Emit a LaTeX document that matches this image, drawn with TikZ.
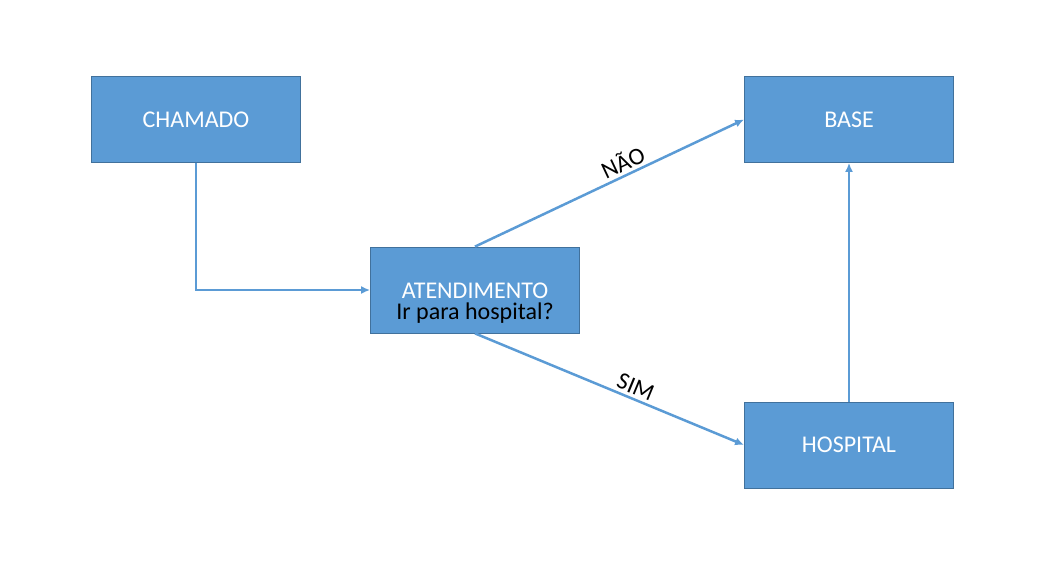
\documentclass[tikz,border=0pt]{standalone}
\usepackage{fontspec}
\setmainfont{Carlito}
\usetikzlibrary{arrows.meta}
\definecolor{boxfill}{HTML}{5B9BD5}
\definecolor{boxline}{HTML}{41719C}
\begin{document}
\begin{tikzpicture}[x=1pt,y=-1pt,-{Latex[length=9pt,width=8pt]},draw=boxfill,line width=2.5pt]
    \tikzstyle{state}=[rectangle,draw=boxline,line width=0.8pt,fill=boxfill,minimum width=209pt,minimum height=86pt,inner sep=0pt,text=white,font=\fontsize{24}{21}\selectfont]
    \tikzstyle{annot}=[sloped,above,text=black,inner sep=3pt,font=\fontsize{24}{24}\selectfont]
    \useasboundingbox (0,0) rectangle (1058,570);

    % Draw the states
    \node[state] (C) at (196,119.5) {CHAMADO};
    \node[state] (B) at (849,119.5) {BASE};
    \node[state,align=center] (A) at (475,290) {\rule{0pt}{42pt}ATENDIMENTO\\\textcolor{black}{Ir para hospital?}};
    \node[state] (H) at (849,445) {HOSPITAL};

    % Connect the states
    \draw (C.south) |- (A.west);
    \path (A.north) edge node[annot,pos=0.57] {NÃO} (B.west);
    \path (A.south) edge node[annot,pos=0.58] {SIM} (H.west);
    \path (H.north) edge (B.south);
\end{tikzpicture}
\end{document}
